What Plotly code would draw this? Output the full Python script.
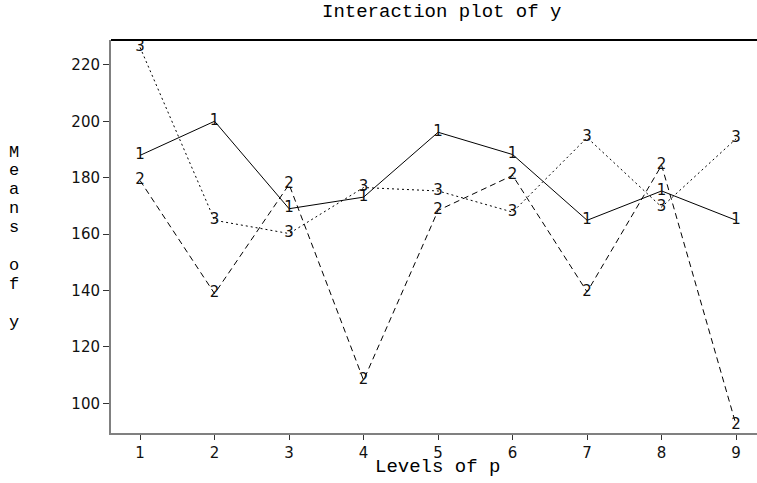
import plotly.graph_objects as go

levels = [1, 2, 3, 4, 5, 6, 7, 8, 9]
series_names = ["1", "2", "3"]
mean_1 = [187.9, 200.0, 169.0, 173.1, 196.1, 188.2, 164.9, 175.3, 164.9]
mean_2 = [179.0, 138.9, 177.6, 108.2, 168.4, 180.8, 139.5, 184.4, 92.3]
mean_3 = [226.2, 164.9, 160.2, 176.5, 175.3, 167.8, 194.2, 169.6, 193.8]
y_ticks = [100, 120, 140, 160, 180, 200, 220]

title_text = "Interaction plot of y"
x_title = "Levels of p"
y_title_letters = ["M", "e", "a", "n", "s", "", "o", "f", "", "y"]

W, H = 757, 483
L, R, T, B = 111, 0, 40, 50
pw, ph = W - L - R, H - T - B


def px_x(xabs):
    return (xabs - L) / pw


def px_y(yabs):
    return 1 - (yabs - T) / ph


fig = go.Figure()
dashes = ["solid", "6px,4px", "2px,3px"]
for name, vals, dash in zip(series_names, [mean_1, mean_2, mean_3], dashes):
    fig.add_trace(go.Scatter(
        x=levels, y=vals, mode="lines+text",
        text=[name] * len(levels), textposition="middle center",
        textfont=dict(family="DejaVu Sans", size=15, color="#111"),
        line=dict(color="black", width=1, dash=dash),
        showlegend=False, hoverinfo="skip", cliponaxis=False,
    ))

mono = "Liberation Mono, Courier New, monospace"
ann = []
ann.append(dict(text=title_text, x=px_x(441), y=px_y(12),
                xref="paper", yref="paper", showarrow=False,
                font=dict(family=mono, size=19, color="black"),
                xanchor="center", yanchor="middle"))
ann.append(dict(text=x_title, x=px_x(437), y=px_y(467),
                xref="paper", yref="paper", showarrow=False,
                font=dict(family=mono, size=19, color="black"),
                xanchor="center", yanchor="middle"))
for i, ch in enumerate(y_title_letters):
    if not ch:
        continue
    ann.append(dict(text=ch, x=px_x(14), y=px_y(152 + i * 18.9),
                    xref="paper", yref="paper", showarrow=False,
                    font=dict(family=mono, size=17, color="black"),
                    xanchor="center", yanchor="middle"))

fig.update_layout(
    width=W, height=H,
    margin=dict(l=L, r=R, t=T, b=B),
    paper_bgcolor="white", plot_bgcolor="white",
    annotations=ann,
    shapes=[dict(type="line", xref="paper", yref="paper", x0=0, x1=1, y0=1, y1=1,
                 line=dict(color="black", width=2))],
    xaxis=dict(range=[0.61, 9.28], tickvals=levels, ticktext=[str(v) for v in levels],
               showgrid=False, zeroline=False, showline=True, linecolor="#808080",
               linewidth=2, ticks="outside", ticklen=5, tickcolor="#333", tickwidth=1,
               tickfont=dict(family="DejaVu Sans", size=15, color="#111")),
    yaxis=dict(range=[89.5, 228.8], tickvals=y_ticks, ticktext=[str(v) for v in y_ticks],
               showgrid=False, zeroline=False, showline=True, linecolor="#808080",
               linewidth=2, ticks="outside", ticklen=6, tickcolor="#333", tickwidth=1,
               tickfont=dict(family="DejaVu Sans", size=15, color="#111")),
)

fig.write_html(
    "out.html",
    config={"displayModeBar": False},
    post_script="document.body.style.margin='0';document.body.style.padding='0';",
)
